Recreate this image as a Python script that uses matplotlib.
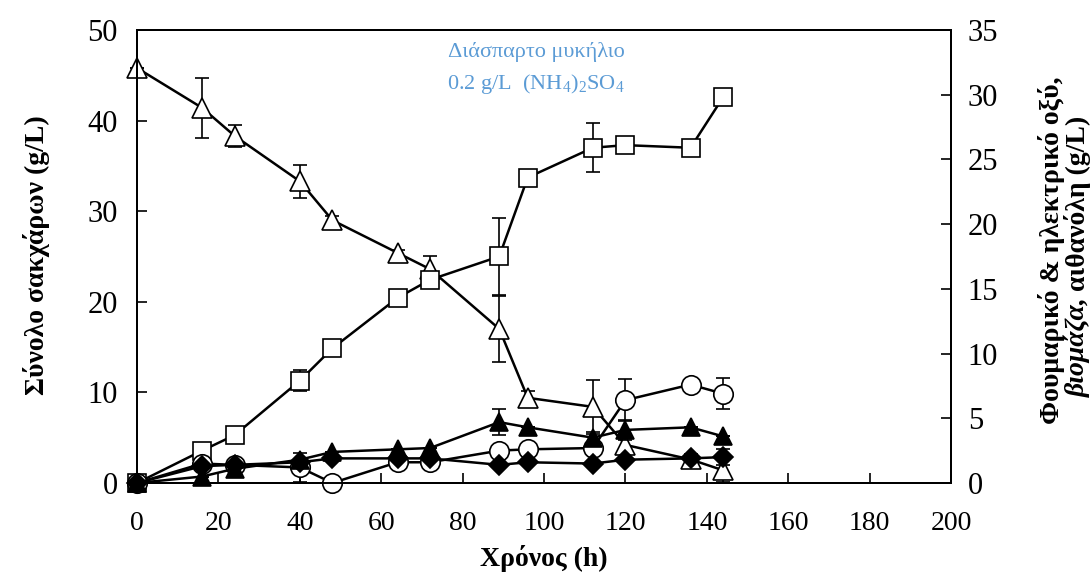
import matplotlib
matplotlib.use('Agg')
import matplotlib.pyplot as plt

plt.rcParams['font.family'] = ['Liberation Serif', 'DejaVu Serif']
plt.rcParams['mathtext.fontset'] = 'custom'
plt.rcParams['mathtext.rm'] = 'Liberation Serif'

# Χρόνος (h)
t = [0, 16, 24, 40, 48, 64, 72, 89, 96, 112, 120, 136, 144]

# Σύνολο σακχάρων, αριστερός άξονας (ανοιχτά τρίγωνα)
sugar = [45.8, 41.4, 38.3, 33.3, 29.0, 25.4, 23.6, 17.0, 9.4, 8.4, 4.2, 2.6, 1.4]
sugar_err = [0, 3.3, 1.2, 1.8, 0.5, 0.3, 1.5, 3.6, 0.8, 3.0, 1.0, 0.6, 1.3]

# δεξιός άξονας
fumaric = [0, 2.5, 3.7, 7.9, 10.4, 14.3, 15.7, 17.5, 23.6, 25.9, 26.1, 25.9, 29.8]
fumaric_err = [0, 0, 0, 0.8, 0, 0, 0.3, 3.0, 0, 1.9, 0, 0, 0]
biomass = [0, 1.5, 1.4, 1.2, 0, 1.6, 1.6, 2.5, 2.6, 2.7, 6.4, 7.6, 6.9]
biomass_err = [0, 0, 0, 1.1, 0, 0, 0, 0, 0, 0, 1.6, 0, 1.2]
succinic = [0, 0.5, 1.1, 1.8, 2.4, 2.6, 2.7, 4.7, 4.3, 3.5, 4.1, 4.3, 3.6]
succinic_err = [0, 0, 0, 0, 0, 0, 0, 1.0, 0, 0.4, 0.8, 0, 0]
ethanol = [0, 1.3, 1.4, 1.6, 1.9, 1.9, 1.9, 1.4, 1.6, 1.5, 1.8, 1.9, 2.0]
ethanol_err = [0, 0, 0, 0, 0, 0, 0, 0, 0, 0, 0, 0, 0.6]

fig = plt.figure(figsize=(10.91, 5.76), dpi=100)
ax = fig.add_axes([0.1256, 0.1615, 0.7461, 0.7865])
ax2 = ax.twinx()

common = dict(color='black', lw=1.8, capsize=5, elinewidth=1.2, capthick=1.3,
              mec='black', mew=1.2, clip_on=False)

ax.errorbar(t, sugar, yerr=sugar_err, marker='^', ms=15, mfc='white', **common)

ax2.errorbar(t, fumaric, yerr=fumaric_err, marker='s', ms=13, mfc='white', **common)
ax2.errorbar(t, biomass, yerr=biomass_err, marker='o', ms=14, mfc='white', **common)
ax2.errorbar(t, succinic, yerr=succinic_err, marker='^', ms=13, mfc='black', **common)
ax2.errorbar(t, ethanol, yerr=ethanol_err, marker='D', ms=10, mfc='black', **common)

ax.set_xlim(0, 200)
ax.set_ylim(0, 50)
ax2.set_ylim(0, 35)
ax.set_xticks(range(0, 201, 20))
ax.set_yticks(range(0, 51, 10))
ax2.set_yticks(range(0, 36, 5))

ax.tick_params(axis='x', direction='in', length=7, width=1.2, labelsize=20, pad=20)
ax.tick_params(axis='y', direction='in', length=7, width=1.2, labelsize=22, pad=14)
ax2.tick_params(axis='y', direction='in', length=7, width=1.2, labelsize=22, pad=12)
for a in (ax, ax2):
    for s in a.spines.values():
        s.set_linewidth(1.4)

fig.text(0.033, 0.557, 'Σύνολο σακχάρων (g/L)', rotation=90, ha='center', va='center',
         fontsize=20, fontweight='bold')
fig.text(0.498, 0.030, 'Χρόνος (h)', ha='center', va='center', fontsize=20, fontweight='bold')

# δεξιός τίτλος σε δύο γραμμές, το "βιομάζα" με πλάγια
fig.text(0.964, 0.565, 'Φουμαρικό & ηλεκτρικό οξύ,', rotation=90, ha='center', va='center',
         fontsize=20, fontweight='bold')
renderer = fig.canvas.get_renderer()
part1 = fig.text(0.988, 0, 'βιομάζα,', rotation=90, ha='center', va='bottom',
                 fontsize=20, fontweight='bold', style='italic')
part2 = fig.text(0.988, 0, ' αιθανόλη (g/L)', rotation=90, ha='center', va='bottom',
                 fontsize=20, fontweight='bold')
h1 = part1.get_window_extent(renderer).height / fig.bbox.height
h2 = part2.get_window_extent(renderer).height / fig.bbox.height
y0 = 0.555 - (h1 + h2) / 2
part1.set_y(y0)
part2.set_y(y0 + h1)

ax.text(0.49, 0.952, 'Διάσπαρτο μυκήλιο', transform=ax.transAxes, ha='center', va='center',
        fontsize=16, color='#5B9BD5')
ax.text(0.49, 0.88, '0.2 g/L  (NH$_4$)$_2$SO$_4$', transform=ax.transAxes, ha='center',
        va='center', fontsize=16, color='#5B9BD5')

fig.savefig('out.png', dpi=100)
